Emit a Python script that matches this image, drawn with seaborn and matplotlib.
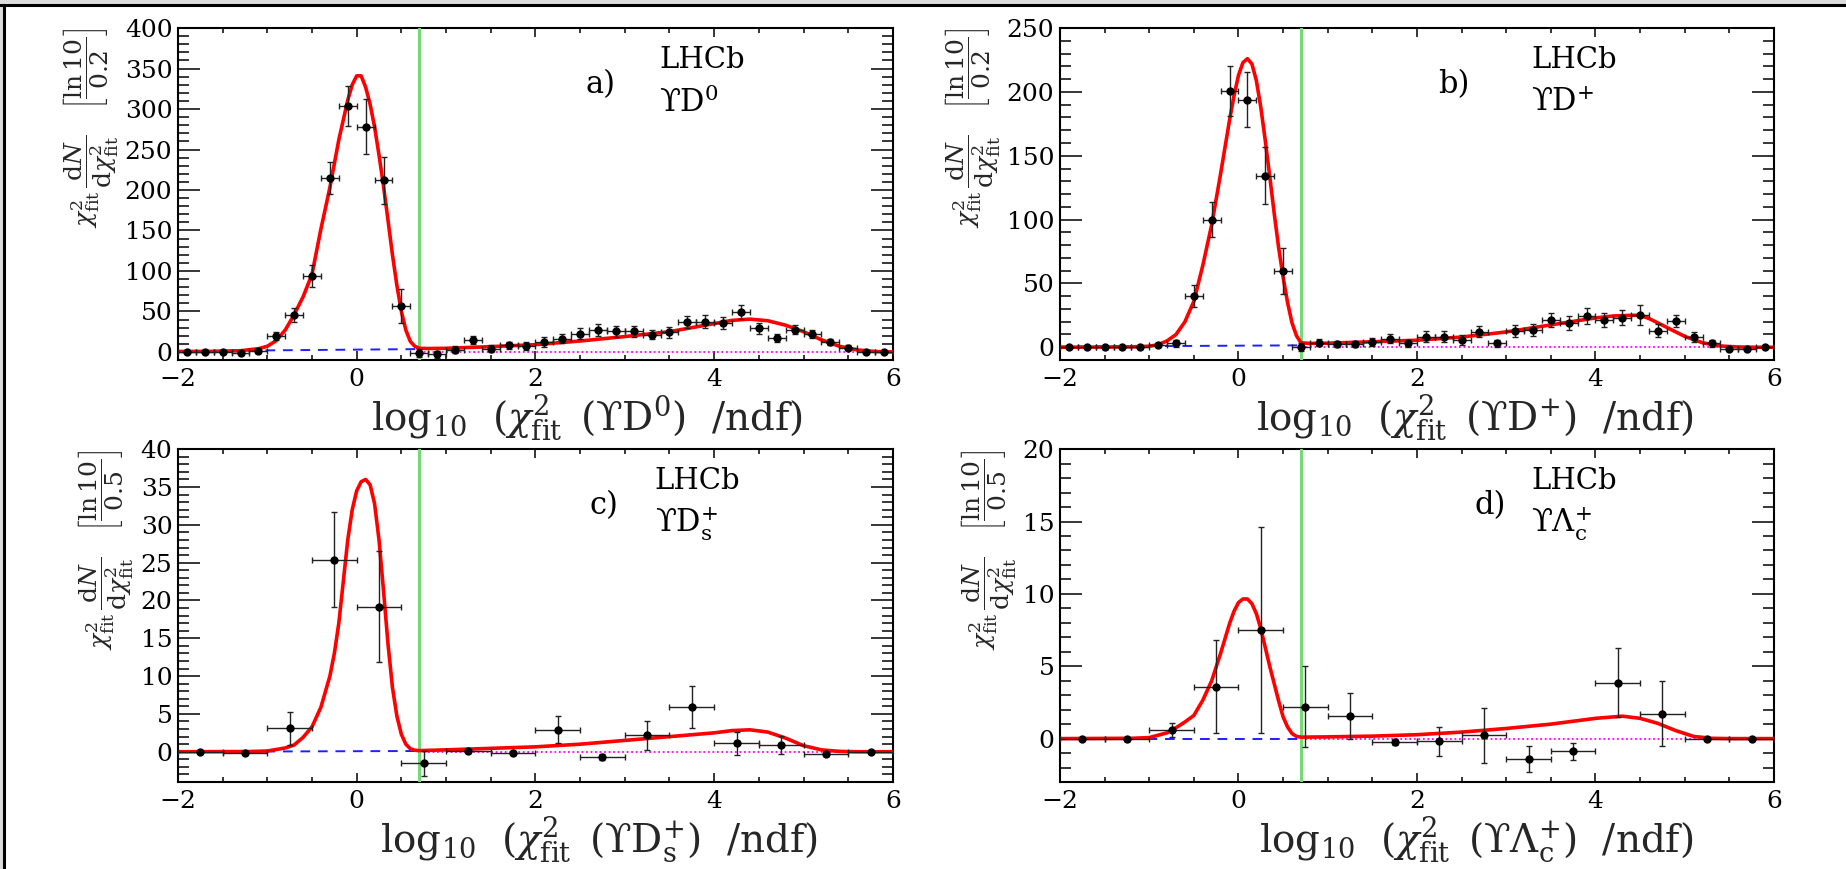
import numpy as np
import pandas as pd
import matplotlib
matplotlib.use("Agg")
import matplotlib.pyplot as plt
from matplotlib.ticker import MultipleLocator
import seaborn as sns

# ---------------- data ----------------
x_fine = [-1.9, -1.7, -1.5, -1.3, -1.1, -0.9, -0.7, -0.5, -0.3, -0.1,
          0.1, 0.3, 0.5, 0.7, 0.9, 1.1, 1.3, 1.5, 1.7, 1.9,
          2.1, 2.3, 2.5, 2.7, 2.9, 3.1, 3.3, 3.5, 3.7, 3.9,
          4.1, 4.3, 4.5, 4.7, 4.9, 5.1, 5.3, 5.5, 5.7, 5.9]
x_coarse = [-1.75, -1.25, -0.75, -0.25, 0.25, 0.75, 1.25, 1.75,
            2.25, 2.75, 3.25, 3.75, 4.25, 4.75, 5.25, 5.75]

y_a = [0, 0, 0, -1, 1, 20, 46, 94, 215, 304,
       278, 212, 57, -1, -3, 3, 15, 4, 8, 7.5,
       12, 16.5, 22.7, 27, 25.5, 25.5, 21.4, 24, 37, 37,
       36, 49.5, 29, 17, 27.6, 22.7, 12.4, 5.4, 0, 0]
e_a = [0.5, 0.5, 0.7, 1, 2, 5, 8.7, 13.6, 20, 25,
       34, 29, 21, 5, 4, 4, 5, 4, 4, 5,
       6, 6, 6.5, 7, 6.5, 6.5, 6, 6.5, 7.5, 8,
       7.5, 9, 7, 5, 6, 5, 4, 3, 0.5, 0.5]

y_b = [0, 0, 0, 0, 0, 2, 3, 40, 100, 201,
       194, 134.5, 60, 0, 3.7, 2.4, 2.4, 4, 6.5, 3,
       8.4, 8.4, 5.7, 12.3, 3, 12.8, 13.6, 21.4, 19.3, 24.5,
       21.4, 23.2, 25.3, 13, 20.6, 7.8, 3, -1, -1.3, 0]
e_b = [0.5, 0.5, 0.5, 0.5, 0.7, 1.5, 3, 8.5, 14, 19.6,
       21.7, 22.5, 18, 3, 2.5, 2.5, 2.5, 3, 3.5, 2.5,
       4, 4, 4, 4.5, 3, 5, 5, 5.5, 5.5, 6,
       5.5, 6, 7.5, 5, 5, 4, 2.5, 1, 1, 0.5]

y_c = [0, -0.1, 3.1, 25.4, 19.2, -1.5, 0.05, -0.2, 2.9, -0.75, 2.16, 5.9, 1.1, 0.9, -0.3, 0]
e_c = [0.1, 0.1, 2.2, 6.3, 7.3, 1.65, 0.1, 0.2, 1.8, 0.4, 1.9, 2.8, 1.5, 1.15, 0.3, 0.1]

y_d = [0, 0, 0.58, 3.6, 7.5, 2.2, 1.55, -0.23, -0.18, 0.23, -1.43, -0.88, 3.87, 1.73, 0, 0]
e_d = [0.05, 0.05, 0.5, 3.2, 7.1, 2.8, 1.6, 0.2, 1.0, 1.9, 0.9, 0.6, 2.4, 2.25, 0.05, 0.05]

# fit curves
fx_a = [-2.0, -1.6, -1.3, -1.1, -1.0, -0.9, -0.8, -0.7, -0.6, -0.5, -0.4, -0.3, -0.2, -0.1,
        -0.05, 0.0, 0.05, 0.1, 0.15, 0.2, 0.25, 0.3, 0.35, 0.4, 0.45, 0.5, 0.55, 0.6, 0.65,
        0.7, 0.8, 1.0, 1.5, 2.0, 2.5, 3.0, 3.5, 4.0, 4.2, 4.4, 4.6, 4.8, 5.0, 5.2, 5.4, 5.6,
        5.8, 6.0]
fy_a = [0.5, 0.7, 1.5, 4, 7, 14, 27, 46, 68, 96, 152, 203, 262, 311,
        330, 341, 341, 327, 306, 278, 243, 205, 163, 120, 82, 50, 27, 13, 7,
        4.5, 4.2, 4.5, 6.5, 9, 13.5, 19, 25, 35, 39, 40.5, 38.5, 33, 25, 15, 7, 2.5,
        0.5, 0]

fx_b = [-2.0, -1.2, -1.0, -0.9, -0.8, -0.7, -0.6, -0.5, -0.4, -0.3, -0.2, -0.1, -0.05,
        0.0, 0.05, 0.1, 0.15, 0.2, 0.25, 0.3, 0.35, 0.4, 0.45, 0.5, 0.55, 0.6, 0.65, 0.7,
        0.8, 1.0, 1.5, 2.0, 2.5, 3.0, 3.5, 4.0, 4.2, 4.4, 4.5, 4.6, 4.8, 5.0, 5.2, 5.4,
        5.6, 5.8, 6.0]
fy_b = [0, 0.3, 0.8, 2, 5, 10, 20, 36, 64, 96, 136, 178, 197,
        213, 223, 226, 222, 209, 188, 162, 134, 105, 78, 55, 35, 19, 9, 3.5,
        3, 3.2, 4.3, 5.5, 8, 12, 17.5, 23, 24.5, 25, 25, 22.5, 15.5, 8.5, 3.5, 1,
        0.2, 0, 0]

fx_c = [-2.0, -1.2, -1.0, -0.8, -0.7, -0.6, -0.5, -0.4, -0.3, -0.25, -0.2, -0.15, -0.1,
        -0.05, 0.0, 0.05, 0.1, 0.15, 0.2, 0.25, 0.3, 0.35, 0.4, 0.45, 0.5, 0.55, 0.6, 0.65,
        0.7, 1.0, 1.5, 2.0, 2.5, 3.0, 3.5, 4.0, 4.2, 4.4, 4.6, 4.8, 5.0, 5.2, 5.4, 5.6, 6.0]
fy_c = [0, 0.03, 0.1, 0.5, 0.9, 1.9, 3.3, 5.9, 10, 13, 17, 22.5, 28,
        32, 34.5, 35.7, 36, 35.3, 32.8, 28, 21.3, 14.3, 8.5, 4.7, 2.3, 1.0, 0.4, 0.2,
        0.15, 0.25, 0.45, 0.65, 1.0, 1.5, 2.0, 2.5, 2.8, 2.9, 2.6, 1.8, 0.8, 0.25, 0.05, 0, 0]

fx_d = [-2.0, -1.2, -1.0, -0.8, -0.7, -0.6, -0.5, -0.4, -0.3, -0.2, -0.1, -0.05, 0.0,
        0.05, 0.1, 0.15, 0.2, 0.25, 0.3, 0.35, 0.4, 0.45, 0.5, 0.55, 0.6, 0.65, 0.7,
        1.0, 1.5, 2.0, 2.5, 3.0, 3.5, 4.0, 4.2, 4.3, 4.5, 4.7, 4.9, 5.1, 5.3, 5.5, 6.0]
fy_d = [0, 0.02, 0.07, 0.4, 0.75, 1.15, 1.6, 2.65, 4.0, 5.9, 7.95, 8.8, 9.4,
        9.65, 9.65, 9.33, 8.64, 7.6, 6.3, 5.0, 3.8, 2.6, 1.5, 0.8, 0.35, 0.15, 0.1,
        0.12, 0.17, 0.27, 0.45, 0.7, 1.0, 1.4, 1.5, 1.55, 1.4, 1.05, 0.55, 0.15, 0.02, 0, 0]

# background components (blue dashed below cut, magenta dotted above)
lo_x = [-2.0, 0.7]
hi_x = [0.7, 6.0]
lo_y = {"a": [1.0, 3.5], "b": [0.5, 1.5], "c": [0.0, 0.1], "d": [0.0, 0.0]}
hi_y = {"a": [0.0, 0.0], "b": [0.0, 0.0], "c": [0.0, 0.0], "d": [0.0, 0.0]}
cut_x = 0.7

SP = r"\ \,"
panels = {
    "a": dict(x=x_fine, y=y_a, e=e_a, hw=0.1, fx=fx_a, fy=fy_a, ylim=(-10, 400),
              major=50, minor=10, binw="0.2", lab="a)", particle=r"$\mathrm{ϒD}^{0}$",
              xl=r"$\log_{10}" + SP + r"(\chi^{2}_{\mathrm{fit}}" + SP + r"(\mathrm{ϒD}^{0})\ \ /\mathrm{ndf})$",
              tx=0.57, ty=0.83, lx=0.673, xr=0.875),
    "b": dict(x=x_fine, y=y_b, e=e_b, hw=0.1, fx=fx_b, fy=fy_b, ylim=(-10, 250),
              major=50, minor=10, binw="0.2", lab="b)", particle=r"$\mathrm{ϒD}^{+}$",
              xl=r"$\log_{10}" + SP + r"(\chi^{2}_{\mathrm{fit}}" + SP + r"(\mathrm{ϒD}^{+})\ \ /\mathrm{ndf})$",
              tx=0.53, ty=0.83, lx=0.66, xr=0.887),
    "c": dict(x=x_coarse, y=y_c, e=e_c, hw=0.25, fx=fx_c, fy=fy_c, ylim=(-4, 40),
              major=5, minor=1, binw="0.5", lab="c)", particle=r"$\mathrm{ϒD}^{+}_{\mathrm{s}}$",
              xl=r"$\log_{10}" + SP + r"(\chi^{2}_{\mathrm{fit}}" + SP + r"(\mathrm{ϒD}^{+}_{\mathrm{s}})\ \ /\mathrm{ndf})$",
              tx=0.575, ty=0.83, lx=0.667, xr=0.895),
    "d": dict(x=x_coarse, y=y_d, e=e_d, hw=0.25, fx=fx_d, fy=fy_d, ylim=(-3, 20),
              major=5, minor=1, binw="0.5", lab="d)", particle=r"$\mathrm{ϒ}\Lambda^{+}_{\mathrm{c}}$",
              xl=r"$\log_{10}" + SP + r"(\chi^{2}_{\mathrm{fit}}" + SP + r"(\mathrm{ϒ}\Lambda^{+}_{\mathrm{c}})\ \ /\mathrm{ndf})$",
              tx=0.58, ty=0.83, lx=0.66, xr=0.887),
}

positions = {
    "a": [0.0964, 0.5857, 0.3873, 0.382],
    "b": [0.5742, 0.5857, 0.3868, 0.382],
    "c": [0.0964, 0.1001, 0.3873, 0.383],
    "d": [0.5742, 0.1001, 0.3868, 0.383],
}

# ---------------- style ----------------
sns.set_theme(style="ticks")
plt.rcParams["font.family"] = "serif"
plt.rcParams["font.serif"] = ["DejaVu Serif"]
plt.rcParams["mathtext.fontset"] = "custom"
plt.rcParams["mathtext.rm"] = "DejaVu Serif"
plt.rcParams["mathtext.it"] = "DejaVu Serif:italic"
plt.rcParams["mathtext.bf"] = "DejaVu Serif:bold"
plt.rcParams["axes.linewidth"] = 1.5

fig = plt.figure(figsize=(18.46, 8.69), dpi=100)

# outer frame like the scanned original
fig.patches.append(plt.Rectangle((0, 1 - 4 / 869), 1, 4 / 869, transform=fig.transFigure,
                                 color="#dcdcdc", zorder=0))
fig.patches.append(plt.Rectangle((0, 0), 3 / 1846, 1, transform=fig.transFigure,
                                 color="#dcdcdc", zorder=0))
fig.add_artist(plt.Line2D([0, 1], [1 - 5 / 869, 1 - 5 / 869], transform=fig.transFigure,
                          color="black", lw=2.2))
fig.add_artist(plt.Line2D([4 / 1846, 4 / 1846], [0, 1 - 5 / 869], transform=fig.transFigure,
                          color="black", lw=2.2))

serif = "DejaVu Serif"
for key, p in panels.items():
    ax = fig.add_axes(positions[key])
    df = pd.DataFrame({"x": p["x"], "y": p["y"], "e": p["e"]})
    fit = pd.DataFrame({"x": p["fx"], "y": p["fy"]})

    # background components
    ax.plot(lo_x, lo_y[key], color="#1f1fff", lw=1.4, ls=(0, (5, 4)), zorder=2)
    ax.plot(hi_x, hi_y[key], color="#ff00ff", lw=1.3, ls=(0, (1, 1.5)), zorder=2)
    # cut line
    ax.axvline(cut_x, color="#77d877", lw=2.2, zorder=3)
    # fit
    sns.lineplot(data=fit, x="x", y="y", ax=ax, color="#ff0000", lw=2.6, sort=False,
                 estimator=None, zorder=4, legend=False)
    # data with error bars
    ax.errorbar(df["x"], df["y"], yerr=df["e"], xerr=p["hw"], fmt="none", ecolor="#222222",
                elinewidth=1.0, capsize=2.5, capthick=1.0, zorder=5)
    sns.scatterplot(data=df, x="x", y="y", ax=ax, color="black", s=36, edgecolor="black",
                    linewidth=0, zorder=6, legend=False)

    ax.set_xlim(-2, 6)
    ax.set_ylim(*p["ylim"])
    ax.xaxis.set_major_locator(MultipleLocator(2))
    ax.xaxis.set_minor_locator(MultipleLocator(0.5))
    ax.yaxis.set_major_locator(MultipleLocator(p["major"]))
    ax.yaxis.set_minor_locator(MultipleLocator(p["minor"]))
    ax.tick_params(axis="both", which="both", direction="in", top=True, right=True,
                   colors="black", labelsize=18, width=1.1)
    ax.tick_params(axis="x", which="major", length=6.5, pad=6)
    ax.tick_params(axis="x", which="minor", length=3.6)
    ax.tick_params(axis="y", which="major", length=16, pad=4)
    ax.tick_params(axis="y", which="minor", length=8)
    for lbl in ax.get_xticklabels() + ax.get_yticklabels():
        lbl.set_fontfamily(serif)
    for s in ax.spines.values():
        s.set_color("black")
        s.set_linewidth(1.5)

    ax.set_xlabel(p["xl"], fontsize=28, loc="right", labelpad=1)
    ax.xaxis.label.set_x(p["xr"])
    ylab = (r"$\chi^{2}_{\mathrm{fit}}\,\dfrac{\mathrm{d}N}{\mathrm{d}\chi^{2}_{\mathrm{fit}}}"
            r"\quad\left[\dfrac{\ln 10}{" + p["binw"] + r"}\right]$")
    ax.set_ylabel(ylab, fontsize=18, loc="top", labelpad=3)

    ax.text(p["tx"], p["ty"], p["lab"], transform=ax.transAxes, fontsize=22,
            ha="left", va="center", color="black", fontfamily=serif)
    ax.text(p["lx"], 0.945, "LHCb", transform=ax.transAxes, fontsize=21,
            ha="left", va="top", color="black", fontfamily=serif)
    ax.text(p["lx"], 0.775, p["particle"], transform=ax.transAxes, fontsize=22,
            ha="left", va="center", color="black")

fig.savefig("out.png", dpi=100, facecolor="white")
